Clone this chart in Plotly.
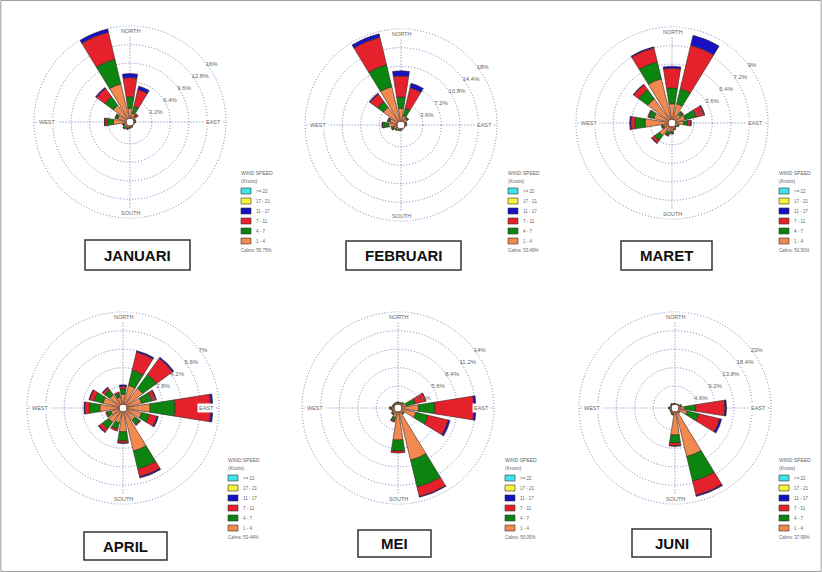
import plotly.graph_objects as go

W, H = 822, 572

# ---------------- data ----------------
directions = ["N", "NNE", "NE", "ENE", "E", "ESE", "SE", "SSE",
              "S", "SSW", "SW", "WSW", "W", "WNW", "NW", "NNW"]
dir_deg = [0, 22.5, 45, 67.5, 90, 112.5, 135, 157.5,
           180, 202.5, 225, 247.5, 270, 292.5, 315, 337.5]

speed_classes = ["1 - 4", "4 - 7", "7 - 11", "11 - 17", "17 - 21", ">= 22"]
legend_order = [">= 22", "17 - 21", "11 - 17", "7 - 11", "4 - 7", "1 - 4"]

month_names = ["JANUARI", "FEBRUARI", "MARET", "APRIL", "MEI", "JUNI"]
calms = ["Calms: 55.75%", "Calms: 53.49%", "Calms: 50.50%",
         "Calms: 53.44%", "Calms: 50.05%", "Calms: 37.99%"]
ring_max = [16, 18, 9, 7, 14, 23]
ring_labels = [
    ["3.2%", "6.4%", "9.6%", "12.8%", "16%"],
    ["3.6%", "7.2%", "10.8%", "14.4%", "18%"],
    ["1.8%", "3.6%", "5.4%", "7.2%", "9%"],
    ["1.4%", "2.8%", "4.2%", "5.6%", "7%"],
    ["2.8%", "5.6%", "8.4%", "11.2%", "14%"],
    ["4.6%", "9.2%", "13.8%", "18.4%", "23%"],
]
ring_values = [
    [3.2, 6.4, 9.6, 12.8, 16],
    [3.6, 7.2, 10.8, 14.4, 18],
    [1.8, 3.6, 5.4, 7.2, 9],
    [1.4, 2.8, 4.2, 5.6, 7],
    [2.8, 5.6, 8.4, 11.2, 14],
    [4.6, 9.2, 13.8, 18.4, 23],
]

#            N    NNE  NE   ENE  E    ESE  SE   SSE  S    SSW  SW   WSW  W    WNW  NW   NNW
jan_1_4  = [1.8, 1.0, 0.6, 0.3, 0.3, 0.2, 0.2, 0.3, 0.4, 0.5, 0.6, 0.5, 2.3, 1.6, 3.0, 6.2]
jan_4_7  = [2.0, 1.2, 0.3, 0.1, 0.1, 0.0, 0.0, 0.1, 0.1, 0.2, 0.3, 0.2, 1.1, 0.4, 1.8, 4.4]
jan_7_11 = [3.3, 3.0, 0.3, 0.0, 0.0, 0.0, 0.0, 0.0, 0.0, 0.1, 0.1, 0.05, 0.4, 0.1, 1.8, 4.8]
jan_11_17 = [0.7, 0.6, 0.0, 0.0, 0.0, 0.0, 0.0, 0.0, 0.0, 0.0, 0.0, 0.0, 0.05, 0.0, 0.2, 0.6]

feb_1_4  = [2.6, 1.2, 0.8, 0.4, 0.3, 0.2, 0.2, 0.2, 0.3, 0.4, 0.5, 0.8, 1.8, 1.6, 3.6, 7.0]
feb_4_7  = [2.2, 1.5, 0.3, 0.1, 0.1, 0.0, 0.0, 0.0, 0.1, 0.1, 0.2, 0.4, 0.9, 0.4, 1.4, 4.4]
feb_7_11 = [4.1, 4.1, 0.1, 0.0, 0.0, 0.0, 0.0, 0.0, 0.0, 0.0, 0.05, 0.1, 0.3, 0.1, 1.8, 5.5]
feb_11_17 = [1.0, 0.9, 0.0, 0.0, 0.0, 0.0, 0.0, 0.0, 0.0, 0.0, 0.0, 0.0, 0.05, 0.0, 0.2, 0.7]

mar_1_4  = [1.55, 1.6, 0.7, 1.0, 0.8, 0.3, 0.2, 0.3, 0.5, 0.6, 1.2, 0.5, 2.3, 1.5, 2.6, 4.1]
mar_4_7  = [1.55, 1.5, 0.3, 1.1, 0.4, 0.1, 0.05, 0.1, 0.2, 0.3, 0.6, 0.2, 1.0, 0.5, 1.1, 1.7]
mar_7_11 = [1.9, 4.35, 0.1, 0.8, 0.3, 0.0, 0.0, 0.0, 0.05, 0.1, 0.3, 0.05, 0.4, 0.1, 0.6, 1.4]
mar_11_17 = [0.2, 1.0, 0.0, 0.05, 0.05, 0.0, 0.0, 0.0, 0.0, 0.0, 0.05, 0.0, 0.1, 0.0, 0.05, 0.1]

apr_1_4  = [0.8, 1.5, 1.6, 1.2, 1.8, 1.2, 0.9, 3.1, 1.55, 0.9, 1.1, 0.7, 1.5, 1.3, 1.0, 0.6]
apr_4_7  = [0.4, 1.2, 1.3, 0.8, 1.9, 0.6, 0.4, 1.4, 0.7, 0.5, 0.6, 0.3, 0.8, 0.7, 0.45, 0.3]
apr_7_11 = [0.2, 1.4, 1.5, 0.3, 2.7, 0.6, 0.1, 0.6, 0.15, 0.15, 0.3, 0.1, 0.35, 0.35, 0.2, 0.1]
apr_11_17 = [0.1, 0.1, 0.1, 0.05, 0.15, 0.1, 0.0, 0.1, 0.02, 0.0, 0.05, 0.0, 0.05, 0.05, 0.05, 0.0]

mei_1_4  = [0.3, 0.3, 0.4, 0.8, 2.6, 2.3, 0.5, 7.6, 4.35, 1.0, 0.5, 0.4, 0.5, 0.3, 0.3, 0.3]
mei_4_7  = [0.1, 0.1, 0.2, 1.4, 2.5, 1.9, 0.2, 4.2, 1.65, 0.5, 0.2, 0.1, 0.2, 0.1, 0.1, 0.1]
mei_7_11 = [0.0, 0.0, 0.0, 1.6, 5.9, 3.1, 0.0, 1.5, 0.3, 0.2, 0.05, 0.0, 0.05, 0.0, 0.0, 0.0]
mei_11_17 = [0.0, 0.0, 0.0, 0.05, 0.3, 0.3, 0.0, 0.1, 0.0, 0.0, 0.0, 0.0, 0.0, 0.0, 0.0, 0.0]

jun_1_4  = [0.2, 0.2, 0.3, 0.6, 1.6, 2.3, 0.6, 11.6, 5.9, 0.6, 0.5, 0.4, 0.5, 0.3, 0.4, 0.3]
jun_4_7  = [0.1, 0.0, 0.1, 0.3, 2.7, 3.0, 0.2, 6.3, 2.0, 0.3, 0.2, 0.1, 0.2, 0.1, 0.2, 0.1]
jun_7_11 = [0.0, 0.0, 0.0, 0.0, 7.3, 5.3, 0.0, 3.6, 0.7, 0.1, 0.0, 0.0, 0.05, 0.0, 0.0, 0.0]
jun_11_17 = [0.0, 0.0, 0.0, 0.0, 0.4, 0.5, 0.0, 0.3, 0.1, 0.0, 0.0, 0.0, 0.0, 0.0, 0.0, 0.0]

zeros16 = [0.0] * 16

month_series = [
    [jan_1_4, jan_4_7, jan_7_11, jan_11_17, zeros16, zeros16],
    [feb_1_4, feb_4_7, feb_7_11, feb_11_17, zeros16, zeros16],
    [mar_1_4, mar_4_7, mar_7_11, mar_11_17, zeros16, zeros16],
    [apr_1_4, apr_4_7, apr_7_11, apr_11_17, zeros16, zeros16],
    [mei_1_4, mei_4_7, mei_7_11, mei_11_17, zeros16, zeros16],
    [jun_1_4, jun_4_7, jun_7_11, jun_11_17, zeros16, zeros16],
]

# ---------------- styles / layout positions (pixels) ----------------
class_colors = {"1 - 4": "#F2894F", "4 - 7": "#0B8510", "7 - 11": "#E5212B",
                "11 - 17": "#1612C4", "17 - 21": "#F5F53A", ">= 22": "#3FE3EA"}
centers = [(130, 122), (401, 125), (672, 123), (123, 408), (398, 408), (675, 408)]
RAD = 96
title_boxes = [(85, 240, 190, 270), (346, 241, 461, 270), (621, 241, 712, 270),
               (84, 532, 167, 560), (358, 530, 431, 557), (632, 529, 711, 557)]
legend_pos = [(241, 173), (508, 173), (779, 173), (228, 460), (505, 460), (779, 460)]

GRID = "#6F7AB8"
DOTS = "1px,2px"
TXT = "#666666"
FONT = "Liberation Sans"


def px(x, y):
    return x / W, 1 - y / H


fig = go.Figure()
layout = dict(width=W, height=H, margin=dict(l=0, r=0, t=0, b=0),
              paper_bgcolor="white", plot_bgcolor="white", showlegend=False,
              font=dict(family=FONT, color=TXT))
shapes = []
annotations = []

for i in range(6):
    key = "polar" if i == 0 else f"polar{i+1}"
    sub = key
    cx, cy = centers[i]
    x0, y1 = px(cx - RAD, cy - RAD)
    x1, y0 = px(cx + RAD, cy + RAD)
    for cls, vals in zip(speed_classes, month_series[i]):
        fig.add_trace(go.Barpolar(
            r=vals, theta=dir_deg, width=[18] * 16, name=cls, subplot=sub,
            marker=dict(color=class_colors[cls], line=dict(color="#3a2a2a", width=0.6)),
            hoverinfo="skip"))
    layout[key] = dict(
        domain=dict(x=[x0, x1], y=[y0, y1]),
        bgcolor="rgba(0,0,0,0)", hole=0.035, barmode="stack",
        radialaxis=dict(range=[0, ring_max[i] * 1.002], tickvals=ring_values[i],
                        ticktext=ring_labels[i], angle=40, tickangle=40,
                        showline=False, ticks="", gridcolor=GRID, griddash=DOTS,
                        gridwidth=1, tickfont=dict(size=6, color=TXT, family=FONT)),
        angularaxis=dict(direction="clockwise", rotation=90, tickmode="array",
                         tickvals=[0, 90, 180, 270], showticklabels=False, ticks="",
                         showline=False, gridcolor=GRID, griddash=DOTS, gridwidth=1),
    )
    # outer dotted ring (plotly hides the grid line at the range edge)
    shapes.append(dict(type="circle", xref="paper", yref="paper", x0=x0, x1=x1,
                       y0=y0, y1=y1, line=dict(color=GRID, width=1, dash=DOTS),
                       layer="below"))
    # compass labels inside the outer ring
    for txt, ax, ay, xa in [("NORTH", cx, cy - RAD + 5, "center"),
                             ("SOUTH", cx, cy + RAD - 5, "center"),
                             ("WEST", cx - RAD + 3, cy, "left"),
                             ("EAST", cx + RAD - 3, cy, "right")]:
        xx, yy = px(ax, ay)
        annotations.append(dict(x=xx, y=yy, xref="paper", yref="paper", text=txt,
                                showarrow=False, xanchor=xa, yanchor="middle",
                                font=dict(size=5.5, color=TXT, family=FONT),
                                bgcolor="white"))
    # month title box
    bx0, by0, bx1, by1 = title_boxes[i]
    p0 = px(bx0, by1)
    p1 = px(bx1, by0)
    shapes.append(dict(type="rect", xref="paper", yref="paper", x0=p0[0], y0=p0[1],
                       x1=p1[0], y1=p1[1], line=dict(color="#333333", width=1.5),
                       fillcolor="white"))
    tx, ty = px((bx0 + bx1) / 2, (by0 + by1) / 2)
    annotations.append(dict(x=tx, y=ty, xref="paper", yref="paper",
                            text="<b>" + month_names[i] + "</b>", showarrow=False,
                            xanchor="center", yanchor="middle",
                            font=dict(size=15, color="#111111", family=FONT)))
    # legend
    lx, ly = legend_pos[i]
    for txt, yy_ in [("WIND SPEED", ly), ("(Knots)", ly + 8)]:
        a, b = px(lx - 2, yy_)
        annotations.append(dict(x=a, y=b, xref="paper", yref="paper", text=txt,
                                showarrow=False, xanchor="left", yanchor="middle",
                                font=dict(size=5, color=TXT, family=FONT)))
    for k, cls in enumerate(legend_order):
        sy = ly + 18 + 10 * k
        s0 = px(lx, sy + 3)
        s1 = px(lx + 10, sy - 3)
        shapes.append(dict(type="rect", xref="paper", yref="paper", x0=s0[0], y0=s0[1],
                           x1=s1[0], y1=s1[1], fillcolor=class_colors[cls],
                           line=dict(color="#333333", width=0.6)))
        a, b = px(lx + 13, sy)
        annotations.append(dict(x=a, y=b, xref="paper", yref="paper", text=cls,
                                showarrow=False, xanchor="left", yanchor="middle",
                                font=dict(size=4.5, color=TXT, family=FONT)))
    a, b = px(lx - 2, ly + 18 + 10 * 6 - 1)
    annotations.append(dict(x=a, y=b, xref="paper", yref="paper", text=calms[i],
                            showarrow=False, xanchor="left", yanchor="middle",
                            font=dict(size=4.5, color=TXT, family=FONT)))

shapes.append(dict(type="rect", xref="paper", yref="paper", x0=0.001, y0=0.001,
                   x1=0.999, y1=0.999, line=dict(color="#9a9a9a", width=1)))
layout["shapes"] = shapes
layout["annotations"] = annotations
fig.update_layout(**layout)
fig.write_html("out.html", config={"displayModeBar": False},
               post_script="document.body.style.margin='0';document.body.style.padding='0';")
